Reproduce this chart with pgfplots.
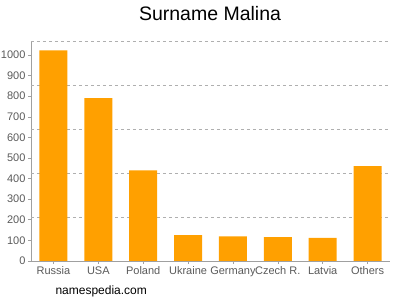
\documentclass[border=0pt]{standalone}
\usepackage{pgfplots}
\pgfplotsset{compat=1.18}
\usepackage{fontspec}
\setmainfont{Liberation Sans}
\definecolor{barc}{RGB}{255,160,0}
\definecolor{axc}{RGB}{160,160,160}
\definecolor{gridc}{RGB}{175,175,175}
\definecolor{labc}{RGB}{90,90,90}
\begin{document}
\begin{tikzpicture}[x=1pt,y=1pt]
\path[use as bounding box] (-31,-39) rectangle (369,261);
\begin{axis}[
  at={(0,0)}, anchor=south west,
  scale only axis, width=359pt, height=220pt,
  xmin=-0.5, xmax=7.5, ymin=0, ymax=1068,
  axis x line*=bottom, axis y line*=left,
  axis line style={draw=axc, line width=0.8pt},
  xtick=data,
  xticklabels={Russia,USA,Poland,Ukraine,Germany,Czech R.,Latvia,Others},
  ytick={0,100,...,1000},
  extra y ticks={213.6,427.2,640.8,854.4,1068},
  extra y tick labels={},
  extra y tick style={grid=major, major grid style={draw=gridc, dashed, line width=0.6pt}, major tick length=0pt},
  tick style={draw=axc, line width=0.6pt},
  major tick length=3pt,
  tick align=outside,
  ticklabel style={font=\fontsize{11}{12}\selectfont, text=labc},
  /pgf/number format/assume math mode=true,
  /pgf/number format/set thousands separator={},
  xticklabel style={yshift=1pt},
  yticklabel style={xshift=1pt},
  ybar, bar width=28pt,
  enlargelimits=false,
  clip=false,
]
\addplot[fill=barc, draw=none] coordinates {
(0,1022) (1,791) (2,440) (3,126) (4,120) (5,116) (6,112) (7,460)};
\end{axis}
\node[font=\fontsize{19.5}{22}\selectfont, anchor=base] at (179,240) {Surname Malina};
\node[font=\fontsize{12}{14}\selectfont, anchor=base west] at (21,-34) {namespedia.com};
\end{tikzpicture}
\end{document}
